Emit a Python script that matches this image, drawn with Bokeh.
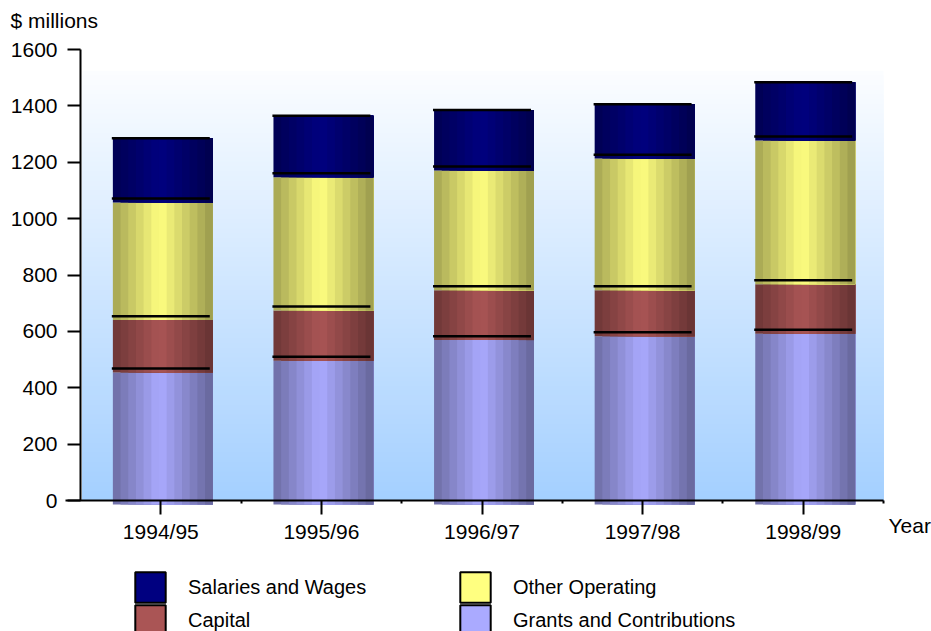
import numpy as np
from bokeh.plotting import figure
from bokeh.models import (ColumnDataSource, FixedTicker, Label, Legend, LegendItem, Range1d)
from bokeh.embed import file_html
from bokeh.resources import INLINE

# ---------------- data ----------------
years = ["1994/95", "1995/96", "1996/97", "1997/98", "1998/99"]
grants = [468, 510, 583, 597, 606]
capital = [186, 178, 177, 163, 175]
other_operating = [417, 473, 425, 467, 510]
salaries = [214, 204, 200, 179, 193]

series_names = ["Grants and Contributions", "Capital", "Other Operating", "Salaries and Wages"]
series_values = [grants, capital, other_operating, salaries]
series_colors = ["#AAAAFF", "#AA5555", "#FFFF80", "#000080"]

y_ticks = [0, 200, 400, 600, 800, 1000, 1200, 1400, 1600]

# ---------------- style / layout ----------------
FONT = "Liberation Sans"
FS_AX = "21px"
FS = "20px"
BAR_HALF = 0.311      # half bar width (category units)
BAR_DX = 0.0125       # 3-D sideways offset of the bar face
FACE_SHIFT = 14       # 3-D downward offset of the bar face (data units)
N_BANDS = 13
LINE_HALF = 0.305
BG_TOP = 1525

W, H = 931, 631
PLOT_L, PLOT_R, PLOT_T, PLOT_B = 80, 883, 49, 500
YMAX = 1600
px_x = (PLOT_R - PLOT_L) / len(years)
px_y = (PLOT_B - PLOT_T) / YMAX
x_start = -PLOT_L / px_x
x_end = len(years) + (W - PLOT_R) / px_x
y_start = -(H - PLOT_B) / px_y
y_end = YMAX + PLOT_T / px_y


def hex_rgb(h):
    h = h.lstrip("#")
    return tuple(int(h[i:i + 2], 16) for i in (0, 2, 4))


def shade(h, f):
    r, g, b = hex_rgb(h)
    return "#%02x%02x%02x" % tuple(max(0, min(255, int(round(c * f)))) for c in (r, g, b))


p = figure(width=W, height=H, output_backend="svg", toolbar_location=None,
           x_range=Range1d(x_start, x_end), y_range=Range1d(y_start, y_end),
           min_border=0, min_border_left=0, min_border_right=0,
           min_border_top=0, min_border_bottom=0)
p.outline_line_color = None
p.xgrid.visible = False
p.ygrid.visible = False
p.background_fill_color = "white"
p.border_fill_color = "white"

# ---------------- background gradient ----------------
n_bg = 90
bg_bottom = (163, 207, 255)
bg_topc = (251, 253, 255)
bg = dict(left=[], right=[], top=[], bottom=[], color=[])
for k in range(n_bg, 0, -1):
    t = k / n_bg
    col = tuple(int(round(bg_bottom[j] + (bg_topc[j] - bg_bottom[j]) * t)) for j in range(3))
    bg["left"].append(0.012)
    bg["right"].append(len(years))
    bg["bottom"].append(0)
    bg["top"].append(BG_TOP * t)
    bg["color"].append("#%02x%02x%02x" % col)
p.quad(left="left", right="right", top="top", bottom="bottom", fill_color="color",
       line_color=None, source=ColumnDataSource(bg))

# ---------------- cylinder bars ----------------
bars = dict(left=[], right=[], top=[], bottom=[], color=[])
lines = dict(x0=[], x1=[], y=[])
bw = 2 * BAR_HALF / N_BANDS
for i in range(len(years)):
    c = i + 0.5
    cum = 0
    for s in range(len(series_values)):
        v = series_values[s][i]
        bottom = cum
        top = cum + v
        fb = bottom - FACE_SHIFT
        ft = top - FACE_SHIFT if s < len(series_values) - 1 else top
        for b in range(N_BANDS):
            t = (b + 0.5) / N_BANDS
            f = 1 - 0.38 * abs(t - 0.47) / 0.5
            bars["left"].append(c - BAR_HALF + BAR_DX + b * bw)
            bars["right"].append(c + BAR_HALF + BAR_DX)
            bars["bottom"].append(fb)
            bars["top"].append(ft)
            bars["color"].append(shade(series_colors[s], f))
        lines["x0"].append(c - LINE_HALF)
        lines["x1"].append(c + LINE_HALF)
        lines["y"].append(top)
        cum = top
p.quad(left="left", right="right", top="top", bottom="bottom", fill_color="color",
       line_color=None, source=ColumnDataSource(bars))
p.segment(x0="x0", x1="x1", y0="y", y1="y", line_color="black", line_width=2.5,
          source=ColumnDataSource(lines))

# ---------------- axes (library axes pinned at the data origin) ----------------
yax = p.yaxis[0]
yax.fixed_location = 0
yax.bounds = (0, YMAX)
yax.ticker = FixedTicker(ticks=y_ticks, minor_ticks=[])
yax.axis_line_width = 2
yax.major_tick_line_width = 2
yax.major_tick_out = 13
yax.major_tick_in = 0
yax.minor_tick_line_color = None
yax.major_label_standoff = 10
yax.major_label_text_font = FONT
yax.major_label_text_font_size = FS_AX
yax.major_label_text_color = "black"

xax = p.xaxis[0]
xax.fixed_location = 0
xax.bounds = (-15 / px_x, len(years))
xax.ticker = FixedTicker(ticks=[i + 0.5 for i in range(len(years))],
                         minor_ticks=list(range(1, len(years) + 1)))
xax.major_label_overrides = {i + 0.5: y for i, y in enumerate(years)}
xax.axis_line_width = 2
xax.major_tick_line_width = 2
xax.major_tick_out = 14
xax.major_tick_in = 0
xax.minor_tick_line_width = 2
xax.minor_tick_out = 3
xax.minor_tick_in = 0
xax.major_label_standoff = 5
xax.major_label_text_font = FONT
xax.major_label_text_font_size = FS_AX
xax.major_label_text_color = "black"

# ---------------- labels ----------------
p.add_layout(Label(x=(10 - PLOT_L) / px_x, y=(PLOT_B - 20) / px_y, text="$ millions",
                   text_font=FONT, text_font_size=FS_AX,
                   text_baseline="middle", text_align="left", text_color="black"))
p.add_layout(Label(x=len(years) + 5 / px_x, y=(PLOT_B - 525) / px_y, text="Year",
                   text_font=FONT, text_font_size=FS_AX,
                   text_baseline="middle", text_align="left", text_color="black"))

# ---------------- legends (proxy renderers with no visible mark) ----------------
legend_renderers = {}
for name, col in zip(series_names, series_colors):
    src = ColumnDataSource(dict(x=[float("nan")], top=[float("nan")]))
    legend_renderers[name] = p.vbar(x="x", top="top", width=0.1, fill_color=col,
                                    line_color="black", line_width=2, source=src)

legend_pos = {
    "Salaries and Wages": (131, 25),
    "Capital": (131, -8),
    "Other Operating": (456, 25),
    "Grants and Contributions": (456, -8),
}
for name in ["Salaries and Wages", "Capital", "Other Operating", "Grants and Contributions"]:
    lg = Legend(items=[LegendItem(label=name, renderers=[legend_renderers[name]], index=0)],
                location=legend_pos[name], orientation="vertical",
                glyph_width=38, glyph_height=38, label_standoff=19, spacing=0,
                padding=0, margin=0, border_line_color=None, background_fill_alpha=0,
                label_text_font=FONT, label_text_font_size=FS, label_text_color="black",
                label_text_baseline="middle")
    p.add_layout(lg)

open("out.html", "w").write(file_html(p, INLINE))
